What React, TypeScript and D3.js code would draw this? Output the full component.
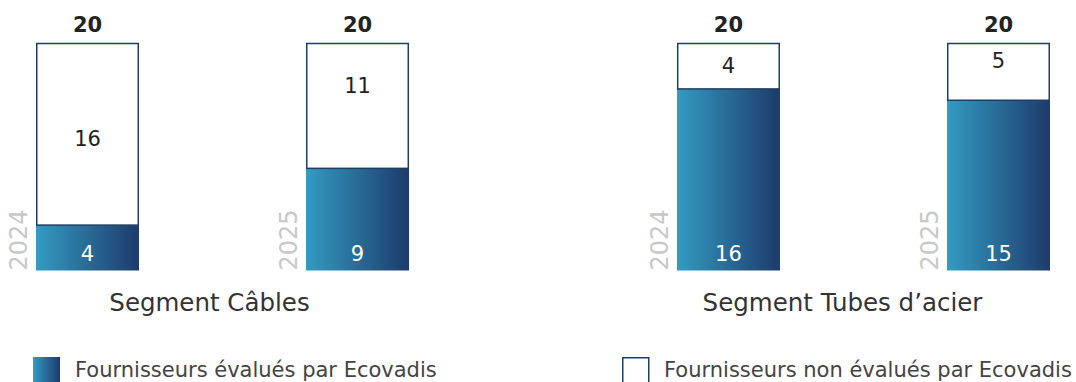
import React from "react";
import * as d3 from "d3";

const segments = ["Segment Câbles", "Segment Tubes d’acier"];
const years = ["2024", "2025"];
// [segment][year]
const evaluated = [
  [4, 9],
  [16, 15],
];
const notEvaluated = [
  [16, 11],
  [4, 5],
];
const legendLabels = [
  "Fournisseurs évalués par Ecovadis",
  "Fournisseurs non évalués par Ecovadis",
];

const W = 1076;
const H = 382;
const FONT = "'DejaVu Sans', 'Open Sans', sans-serif";
const NAVY = "#1e3d62";
const notEvalNudge = [
  [5, -20],
  [0, -11],
];
const segLabelNudge = [-13, -21];

export default function App() {
  const outer = d3
    .scaleBand<string>()
    .domain(segments)
    .range([36, 1050])
    .paddingInner(0.418)
    .paddingOuter(0);
  const inner = d3
    .scaleBand<string>()
    .domain(years)
    .range([0, outer.bandwidth()])
    .paddingInner(0.6185)
    .paddingOuter(0);
  const y = d3.scaleLinear().domain([0, 20]).range([270.5, 43.5]);
  const bw = inner.bandwidth();

  return (
    <svg
      width={W}
      height={H}
      style={{ position: "absolute", left: 0, top: 0, display: "block" }}
    >
      <defs>
        <linearGradient id="grad" x1="0" x2="1" y1="0" y2="0">
          <stop offset="0%" stopColor="#339bc2" />
          <stop offset="100%" stopColor="#1e3b6b" />
        </linearGradient>
      </defs>
      <rect x={0} y={0} width={W} height={H} fill="#fff" />
      {segments.map((seg, si) => {
        const gx = outer(seg)!;
        return (
          <g key={seg}>
            {years.map((yr, yi) => {
              const x = gx + inner(yr)!;
              const ev = evaluated[si][yi];
              const ne = notEvaluated[si][yi];
              const total = ev + ne;
              const yEv = y(ev);
              const yTot = y(total);
              return (
                <g key={yr}>
                  <rect
                    x={x}
                    y={yEv}
                    width={bw}
                    height={y(0) - yEv}
                    fill="url(#grad)"
                  />
                  <rect
                    x={x + 0.75}
                    y={yTot}
                    width={bw - 1.5}
                    height={yEv - yTot}
                    fill="#fff"
                    stroke={NAVY}
                    strokeWidth={1.5}
                  />
                  <text
                    x={x + bw / 2}
                    y={(yTot + yEv) / 2 + notEvalNudge[si][yi]}
                    textAnchor="middle"
                    dominantBaseline="central"
                    fontFamily={FONT}
                    fontSize={21}
                    fill="#222"
                  >
                    {ne}
                  </text>
                  <text
                    x={x + bw / 2}
                    y={y(0) - 17}
                    textAnchor="middle"
                    dominantBaseline="central"
                    fontFamily={FONT}
                    fontSize={21}
                    fill="#fff"
                  >
                    {ev}
                  </text>
                  <text
                    x={x + bw / 2}
                    y={yTot - 19}
                    textAnchor="middle"
                    dominantBaseline="central"
                    fontFamily={FONT}
                    fontSize={21}
                    fontWeight={700}
                    fill="#222"
                  >
                    {total}
                  </text>
                  <text
                    transform={`translate(${x - 9},${y(0)}) rotate(-90)`}
                    textAnchor="start"
                    fontFamily={FONT}
                    fontSize={24}
                    fill="#c8c8c8"
                  >
                    {yr}
                  </text>
                </g>
              );
            })}
            <text
              x={gx + outer.bandwidth() / 2 + segLabelNudge[si]}
              y={302}
              textAnchor="middle"
              dominantBaseline="central"
              fontFamily={FONT}
              fontSize={24.5}
              fill="#333"
            >
              {seg}
            </text>
          </g>
        );
      })}
      {/* Legend */}
      <rect x={33} y={357} width={27} height={28} fill="url(#grad)" />
      <text
        x={75}
        y={370}
        dominantBaseline="central"
        fontFamily={FONT}
        fontSize={21}
        fill="#444"
      >
        {legendLabels[0]}
      </text>
      <rect
        x={622.75}
        y={357.75}
        width={26}
        height={28}
        fill="#fff"
        stroke={NAVY}
        strokeWidth={1.5}
      />
      <text
        x={664}
        y={370}
        dominantBaseline="central"
        fontFamily={FONT}
        fontSize={21}
        fill="#444"
      >
        {legendLabels[1]}
      </text>
    </svg>
  );
}
